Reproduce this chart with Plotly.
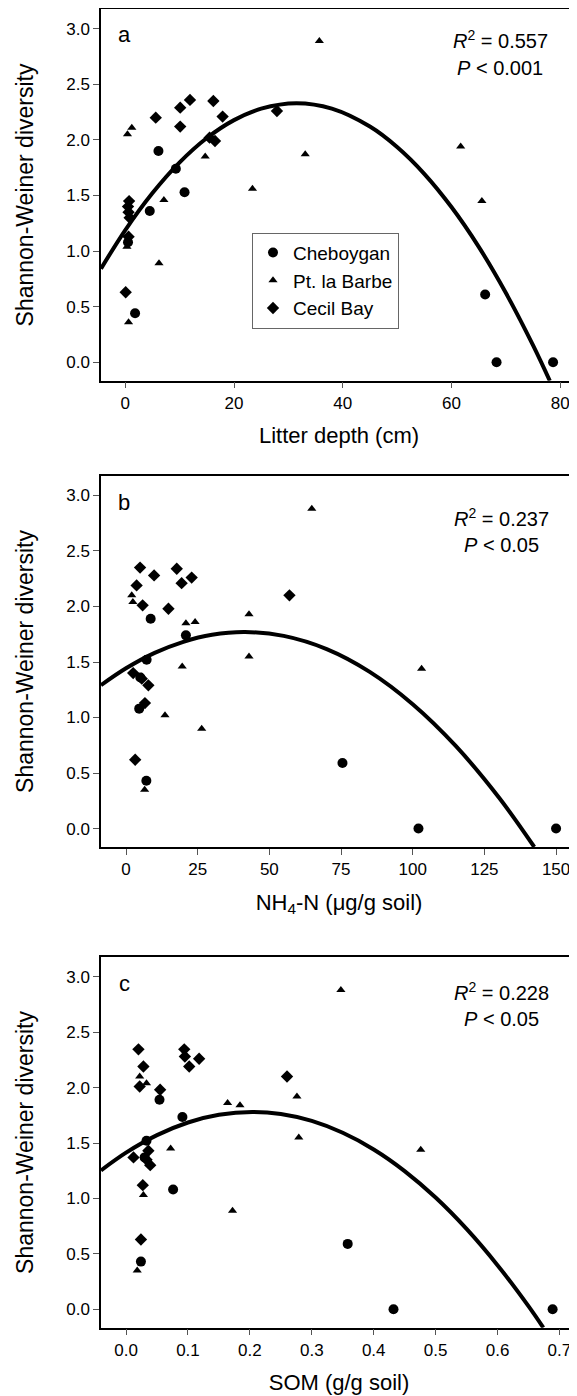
import plotly.graph_objects as go

# ---- panel a: litter depth (cm)
a_cheb_x = [6.1, 9.3, 10.9, 4.5, 0.5, 1.8, 66.2, 68.3, 78.7]
a_cheb_y = [1.90, 1.74, 1.53, 1.36, 1.08, 0.44, 0.61, 0.0, 0.0]
a_pt_x = [35.7, 0.4, 1.2, 14.7, 33.1, 61.7, 23.4, 7.1, 65.6, 0.3, 6.2, 0.6]
a_pt_y = [2.89, 2.05, 2.11, 1.85, 1.87, 1.94, 1.56, 1.46, 1.45, 1.04, 0.89, 0.36]
a_cecil_x = [5.6, 10.1, 11.9, 10.1, 16.2, 17.9, 16.5, 15.5, 27.9, 0.7, 0.5, 0.6, 0.8, 0.6, 0.07]
a_cecil_y = [2.20, 2.29, 2.36, 2.12, 2.35, 2.21, 1.99, 2.02, 2.26, 1.45, 1.40, 1.35, 1.30, 1.13, 0.63]
a_fit_x = [-4.47, 0, 5, 10, 15, 20, 25, 31.5, 38, 45, 50, 55, 60, 65, 70, 75, 78.1]
a_fit_y = [0.842, 1.189, 1.522, 1.798, 2.017, 2.178, 2.281, 2.33, 2.281, 2.120, 1.936,
           1.695, 1.396, 1.040, 0.625, 0.154, -0.167]

# ---- panel b: NH4-N (ug/g soil)
b_cheb_x = [8.6, 20.9, 7.2, 5.0, 4.6, 7.1, 75.5, 102.0, 150.0]
b_cheb_y = [1.89, 1.74, 1.52, 1.36, 1.08, 0.43, 0.59, 0.0, 0.0]
b_pt_x = [64.8, 2.0, 2.4, 20.9, 24.1, 42.9, 42.9, 19.6, 103.1, 13.6, 26.4, 6.5]
b_pt_y = [2.88, 2.10, 2.04, 1.85, 1.86, 1.93, 1.55, 1.46, 1.44, 1.02, 0.90, 0.35]
b_cecil_x = [4.9, 9.8, 3.7, 5.8, 14.8, 17.7, 19.4, 22.9, 57.0, 2.5, 5.5, 7.8, 6.6, 3.2]
b_cecil_y = [2.35, 2.28, 2.19, 2.01, 1.98, 2.34, 2.21, 2.26, 2.10, 1.40, 1.35, 1.29, 1.13, 0.62]
b_fit_x = [-8.72, 0, 10, 20, 30, 41.5, 55, 70, 85, 100, 115, 130, 142.4]
b_fit_y = [1.291, 1.443, 1.582, 1.682, 1.745, 1.77, 1.735, 1.616, 1.411, 1.120, 0.744, 0.282, -0.166]

# ---- panel c: SOM (g/g soil)
c_cheb_x = [0.054, 0.091, 0.033, 0.030, 0.076, 0.024, 0.358, 0.432, 0.689]
c_cheb_y = [1.89, 1.735, 1.52, 1.37, 1.08, 0.43, 0.59, 0.0, 0.0]
c_pt_x = [0.347, 0.022, 0.033, 0.164, 0.184, 0.276, 0.279, 0.072, 0.476, 0.028, 0.172, 0.018]
c_pt_y = [2.88, 2.10, 2.04, 1.86, 1.84, 1.92, 1.55, 1.45, 1.44, 1.03, 0.89, 0.35]
c_cecil_x = [0.020, 0.028, 0.022, 0.055, 0.094, 0.095, 0.102, 0.118, 0.260, 0.012, 0.036, 0.033, 0.039, 0.027, 0.024]
c_cecil_y = [2.345, 2.19, 2.01, 1.98, 2.345, 2.28, 2.19, 2.26, 2.10, 1.37, 1.43, 1.35, 1.30, 1.12, 0.63]
c_fit_x = [-0.0405, 0, 0.05, 0.1, 0.15, 0.204, 0.25, 0.3, 0.35, 0.4, 0.45, 0.5, 0.55, 0.6, 0.65, 0.674]
c_fit_y = [1.253, 1.413, 1.571, 1.685, 1.754, 1.78, 1.761, 1.699, 1.592, 1.442, 1.247, 1.008,
           0.725, 0.398, 0.028, -0.166]

panel_letters = ["a", "b", "c"]
r2_text = ["0.557", "0.237", "0.228"]
p_text = ["0.001", "0.05", "0.05"]
x_titles = ["Litter depth (cm)", "NH<sub>4</sub>-N (\u03bcg/g soil)", "SOM (g/g soil)"]
site_names = ["Cheboygan", "Pt. la Barbe", "Cecil Bay"]

FONT = "Liberation Sans, Arial, Helvetica, sans-serif"
# page has an 8px body margin, so the figure is shifted by that much
OFF = 8
W, H = 577 - OFF, 1396 - OFF


def px(x):
    return (x - OFF) / W


def py(y):
    return 1 - (y - OFF) / H


panels = [
    (a_cheb_x, a_cheb_y, a_pt_x, a_pt_y, a_cecil_x, a_cecil_y, a_fit_x, a_fit_y),
    (b_cheb_x, b_cheb_y, b_pt_x, b_pt_y, b_cecil_x, b_cecil_y, b_fit_x, b_fit_y),
    (c_cheb_x, c_cheb_y, c_pt_x, c_pt_y, c_cecil_x, c_cecil_y, c_fit_x, c_fit_y),
]

# page-pixel boxes of each plot area (top, bottom)
boxes = [(9.3, 380.7), (476, 847), (957.3, 1327.7)]
x_ranges = [[-4.47, 83.1], [-8.72, 157.3], [-0.0405, 0.7284]]
x_ticks = [[0, 20, 40, 60, 80], [0, 25, 50, 75, 100, 125, 150],
           [0, 0.1, 0.2, 0.3, 0.4, 0.5, 0.6, 0.7]]
x_fmt = ["d", "d", ".1f"]
letter_pos = [(125, 35), (124, 502.5), (125, 983)]
r2_pos = [(500, 40, 68.5), (501, 517.5, 545.5), (501, 991, 1019)]

fig = go.Figure()
symbols = ["circle", "triangle-up", "diamond"]
sizes = [10, 8, 9.5]

for i, p in enumerate(panels):
    xa = "x" if i == 0 else "x%d" % (i + 1)
    ya = "y" if i == 0 else "y%d" % (i + 1)
    for k in range(3):
        fig.add_trace(go.Scatter(
            x=p[2 * k], y=p[2 * k + 1], mode="markers",
            marker=dict(symbol=symbols[k], size=sizes[k], color="black"),
            name=site_names[k], showlegend=(i == 0),
            xaxis=xa, yaxis=ya,
        ))
    fig.add_trace(go.Scatter(
        x=p[6], y=p[7], mode="lines", line=dict(color="black", width=4, shape="spline"),
        showlegend=False, xaxis=xa, yaxis=ya,
    ))

layout = dict(
    width=W, height=H,
    margin=dict(l=0, r=0, t=0, b=0),
    plot_bgcolor="white", paper_bgcolor="white",
    font=dict(family=FONT, size=17, color="black"),
    legend=dict(
        x=px(252), y=py(232.7), xanchor="left", yanchor="top",
        bordercolor="#666", borderwidth=1, bgcolor="white",
        font=dict(size=19), itemwidth=30, tracegroupgap=0,
    ),
)

annotations = []
for i in range(3):
    top, bot = boxes[i]
    sfx = "" if i == 0 else str(i + 1)
    layout["xaxis" + sfx] = dict(
        domain=[px(101), 1], range=x_ranges[i], anchor="y" + sfx,
        tickvals=x_ticks[i], tickformat=x_fmt[i],
        showline=True, linecolor="black", linewidth=1.5, mirror=True,
        ticks="outside", ticklen=6, tickcolor="#555",
        showgrid=False, zeroline=False,
        tickfont=dict(size=17),
        title=dict(text=x_titles[i], font=dict(size=22), standoff=16),
    )
    layout["yaxis" + sfx] = dict(
        domain=[py(bot), py(top)], range=[-0.166, 3.175], anchor="x" + sfx,
        tickvals=[0, 0.5, 1.0, 1.5, 2.0, 2.5, 3.0], tickformat=".1f",
        showline=True, linecolor="black", linewidth=1.5, mirror=False,
        ticks="outside", ticklen=6, tickcolor="#555",
        showgrid=False, zeroline=False,
        tickfont=dict(size=17),
        title=dict(text="Shannon-Weiner diversity", font=dict(size=23), standoff=26),
    )
    lx, ly = letter_pos[i]
    annotations.append(dict(x=px(lx), y=py(ly), xref="paper", yref="paper",
                            text=panel_letters[i], showarrow=False,
                            font=dict(size=22), xanchor="center", yanchor="middle"))
    rx, ry1, ry2 = r2_pos[i]
    annotations.append(dict(x=px(rx), y=py(ry1), xref="paper", yref="paper",
                            text="<i>R</i><sup>2</sup> = " + r2_text[i], showarrow=False,
                            font=dict(size=20), xanchor="center", yanchor="middle"))
    annotations.append(dict(x=px(rx), y=py(ry2), xref="paper", yref="paper",
                            text="<i>P</i> &lt; " + p_text[i], showarrow=False,
                            font=dict(size=20), xanchor="center", yanchor="middle"))

layout["annotations"] = annotations
fig.update_layout(**layout)

fig.write_html("out.html")
